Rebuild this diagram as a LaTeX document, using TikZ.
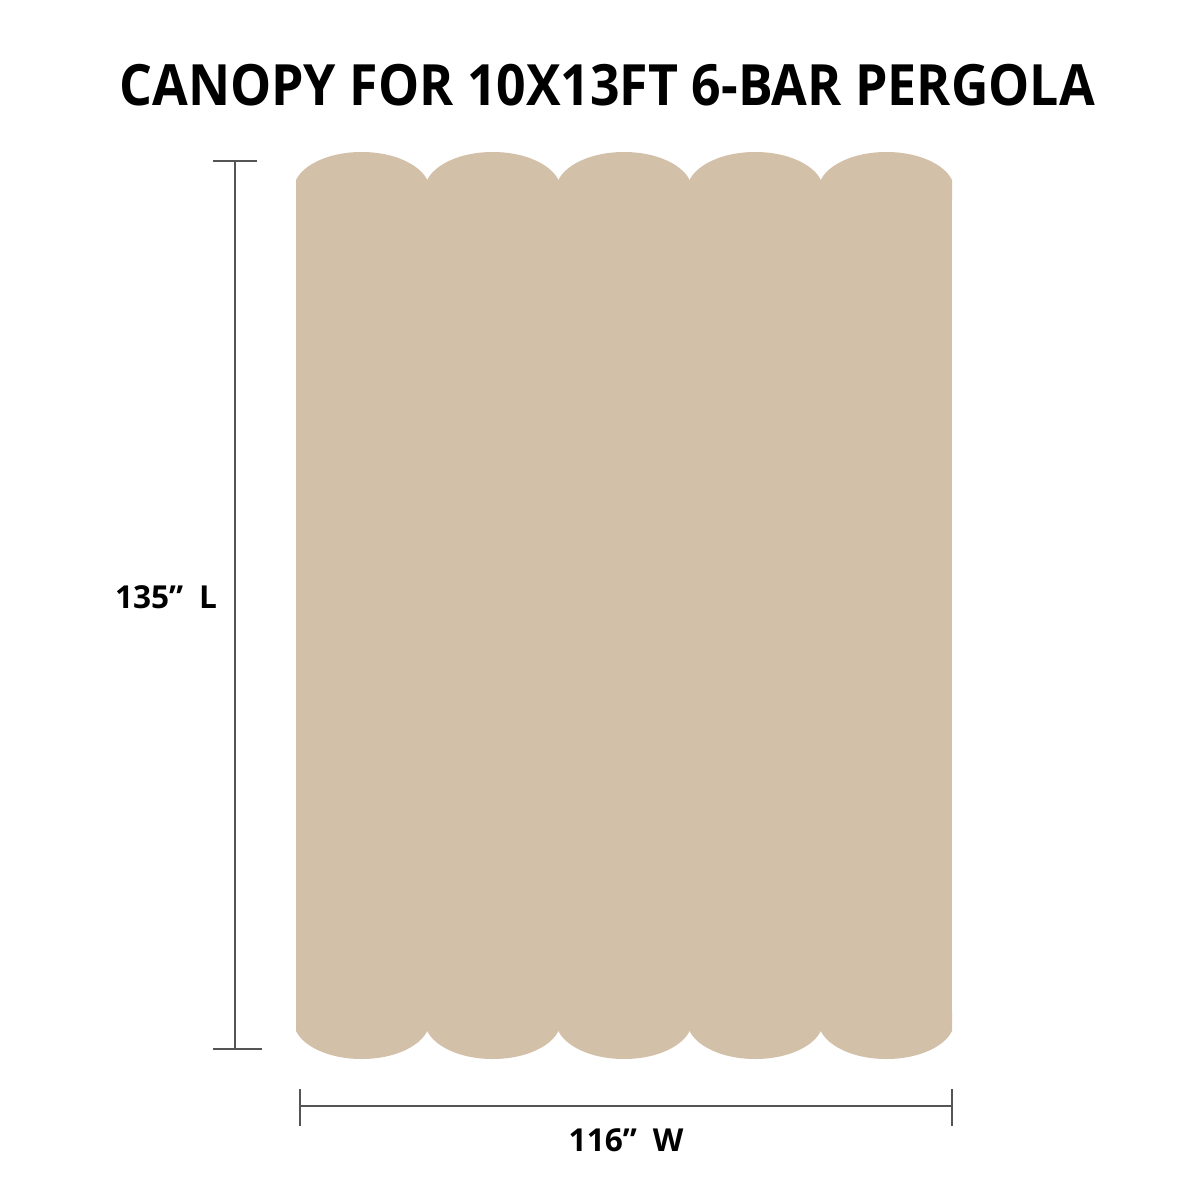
\documentclass[tikz,border=0pt]{standalone}
\usepackage{fontspec}
\setmainfont{Open Sans}
\definecolor{canvas}{RGB}{211,192,168}
\definecolor{dimgray}{RGB}{85,85,85}
\begin{document}
\begin{tikzpicture}[x=0.05cm,y=-0.05cm,
  dimline/.style={draw=dimgray,line width=1.9pt},
  label/.style={font=\bfseries\fontsize{45}{48}\selectfont,inner sep=0pt,anchor=center},
  titletext/.style={font=\bfseries\fontsize{81}{86}\selectfont,inner sep=0pt,anchor=center,xscale=0.91}]
\useasboundingbox (0,0) rectangle (1200,1200);
\fill[white] (0,0) rectangle (1200,1200);
% canopy
\begin{scope}
  \clip (296,100) rectangle (952,1100);
  \fill[canvas] (296,190) rectangle (952,1021);
  \foreach \i in {0,...,4}{
    \fill[canvas] (361.6+131.2*\i,190) ellipse [x radius=68, y radius=38];
    \fill[canvas] (361.6+131.2*\i,1021) ellipse [x radius=68, y radius=38];
  }
\end{scope}
% title
\node[titletext] (title) at (607,85) {CANOPY FOR 10X13FT 6-BAR PERGOLA};
% vertical dimension
\coordinate (vt) at (235,161);
\coordinate (vb) at (235,1049);
\coordinate (vtl) at (213,161);
\coordinate (vtr) at (257,161);
\coordinate (vbl) at (213,1049);
\coordinate (vbr) at (262,1049);
\draw[dimline] (vt) -- (vb);
\draw[dimline] (vtl) -- (vtr);
\draw[dimline] (vbl) -- (vbr);
\node[label] (lenlabel) at (166,597) {135”\hspace{0.5em}L};
% horizontal dimension
\coordinate (hl) at (300,1106);
\coordinate (hr) at (952,1106);
\coordinate (hlt) at (300,1089);
\coordinate (hlb) at (300,1126);
\coordinate (hrt) at (952,1089);
\coordinate (hrb) at (952,1126);
\draw[dimline] (hl) -- (hr);
\draw[dimline] (hlt) -- (hlb);
\draw[dimline] (hrt) -- (hrb);
\node[label] (widlabel) at (626,1140) {116”\hspace{0.5em}W};
\end{tikzpicture}
\end{document}
